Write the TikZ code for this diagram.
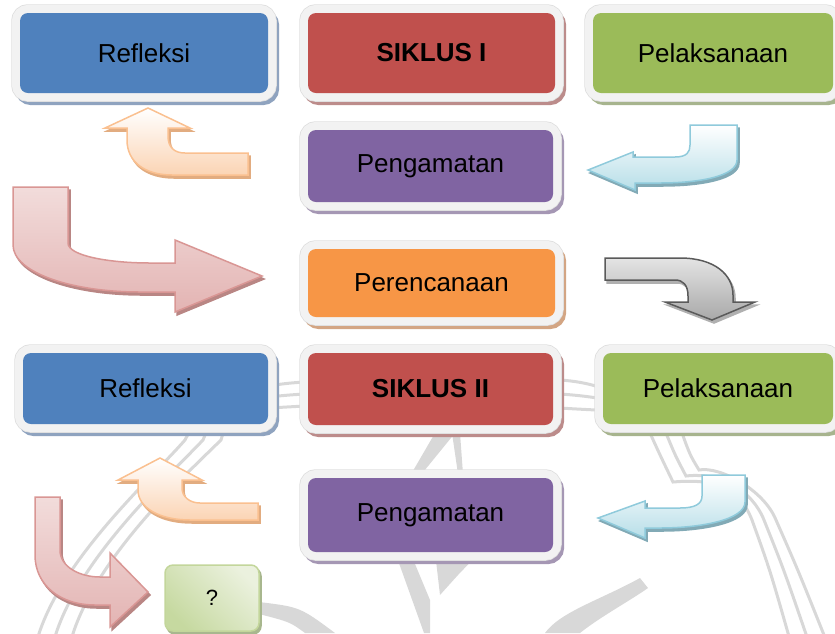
\documentclass[tikz,border=0pt]{standalone}
\usepackage{fontspec}
\setmainfont{Liberation Sans}
\definecolor{blueC}{HTML}{4F81BD}\definecolor{blueS}{HTML}{8FA3BF}
\definecolor{redC}{HTML}{C0504D}\definecolor{redS}{HTML}{BC8C8B}
\definecolor{greenC}{HTML}{9BBB59}\definecolor{greenS}{HTML}{A7B48E}
\definecolor{purpleC}{HTML}{8064A2}\definecolor{purpleS}{HTML}{A597B4}
\definecolor{orangeC}{HTML}{F79646}\definecolor{orangeS}{HTML}{D3A583}
\definecolor{frameC}{HTML}{F2F2F2}\definecolor{frameE}{HTML}{DEDEDE}
\definecolor{wm}{HTML}{D8D8D8}
\definecolor{orA}{HTML}{FBD4B4}\definecolor{orB}{HTML}{FAC090}\definecolor{orS}{HTML}{E2AC80}
\definecolor{blA}{HTML}{B7DEE8}\definecolor{blB}{HTML}{8FCADB}\definecolor{blS}{HTML}{82AAB6}
\definecolor{pkA}{HTML}{F2DCDB}\definecolor{pkB}{HTML}{E3B4B3}\definecolor{pkD}{HTML}{D99694}\definecolor{pkS}{HTML}{B98684}
\definecolor{gyA}{HTML}{E4E4E4}\definecolor{gyB}{HTML}{A8A8A8}\definecolor{gyD}{HTML}{5A5A5A}\definecolor{gyS}{HTML}{B0B0B0}
\definecolor{qA}{HTML}{EBF1DE}\definecolor{qB}{HTML}{C6D9A0}\definecolor{qD}{HTML}{C3D69B}\definecolor{qS}{HTML}{A8B78E}
\tikzset{
  cbox/.style 2 args={fill=#1, draw=none, rounded corners=8pt, inner sep=0pt,
    font=\fontsize{26}{30}\selectfont, text=black,
    preaction={draw=#2, fill=#2, line width=16pt, transform canvas={xshift=3pt,yshift=-4pt}},
    preaction={draw=frameE, line width=17.5pt},
    preaction={draw=frameC, line width=16pt}},
  blockarrow/.style n args={4}{draw=#3, line width=1.5pt, line join=miter, top color=#1, bottom color=#2,
    preaction={fill=#4, draw=#4, line width=1.5pt, transform canvas={xshift=2pt,yshift=-3pt}}},
  wmline/.style={draw=wm, line width=3pt},
  wmfill/.style={fill=wm, draw=none}
}
\begin{document}
\begin{tikzpicture}[x=1pt,y=-1pt]
\useasboundingbox (0,0) rectangle (835,633);
% watermark
\foreach \k in {0,1,2}{
  \draw[wmline] (305,382+12*\k) .. controls (230,386+12*\k) and (200+15*\k,410) .. (185+18*\k,440)
     .. controls (150+15*\k,480) and (60+17*\k,560) .. (37+17*\k,640);
  \draw[wmline] (560,380+14*\k) .. controls (620,384+14*\k) and (640+15*\k,410) .. (650+16*\k,433)
     .. controls (660+15*\k,455) .. (673+13*\k,482-6*\k)
     .. controls (720,478-6*\k) and (740+12*\k,490) .. (752+12*\k,520)
     .. controls (770+14*\k,570) .. (790+18*\k,640);
}
\fill[wmfill] (435,433) -- (455,433) -- (420,476) -- (410,476) -- cycle;
\fill[wmfill] (452,433) -- (460,433) -- (463,474) -- (458,474) -- cycle;
\fill[wmfill] (395,552) -- (410,552) -- (430,600) -- (430,633) -- (424,633) -- cycle;
\fill[wmfill] (435,552) -- (480,552) -- (458,575) -- (440,595) -- cycle;
\fill[wmfill] (259,602) .. controls (300,607) .. (335,633) -- (305,633) .. controls (290,622) .. (259,614) -- cycle;
\fill[wmfill] (640,578) .. controls (600,600) and (560,612) .. (545,633) -- (580,633) .. controls (600,617) and (628,602) .. (648,588) -- cycle;

% boxes
\node[cbox={blueC}{blueS}, minimum width=248pt, minimum height=80pt] (ref1) at (144,53) {Refleksi};
\node[cbox={redC}{redS}, minimum width=247pt, minimum height=80pt] (sik1) at (431.5,53) {\textbf{SIKLUS I}};
\node[cbox={greenC}{greenS}, minimum width=240pt, minimum height=80pt] (pel1) at (713,53) {Pelaksanaan};
\node[cbox={purpleC}{purpleS}, minimum width=245pt, minimum height=72pt] (pen1) at (430.5,166) {Pengamatan};
\node[cbox={orangeC}{orangeS}, minimum width=247pt, minimum height=68pt] (per) at (431.5,283) {Perencanaan};
\node[cbox={blueC}{blueS}, minimum width=245pt, minimum height=71pt] (ref2) at (145.5,388.5) {Refleksi};
\node[cbox={redC}{redS}, minimum width=245pt, minimum height=72pt] (sik2) at (430.5,389) {\textbf{SIKLUS II}};
\node[cbox={greenC}{greenS}, minimum width=230pt, minimum height=71pt] (pel2) at (718,388.5) {Pelaksanaan};
\node[cbox={purpleC}{purpleS}, minimum width=245pt, minimum height=74pt] (pen2) at (430.5,515) {Pengamatan};
\node[draw=qD, line width=1.5pt, rounded corners=8pt, inner sep=0pt,
  minimum width=94pt, minimum height=66pt, font=\fontsize{22}{26}\selectfont,
  left color=qB, right color=qA, shading angle=135,
  preaction={fill=qS, draw=qS, line width=1.5pt, transform canvas={xshift=2pt,yshift=-3pt}}]
  (q) at (212,598) {?};

% block arrows
% orange, row 1
\path[blockarrow={white}{orA}{orB}{orS}]
  (248,153) -- (185,153) .. controls (174,153) and (168,147) .. (168,136) -- (168,128)
  -- (190,128) -- (148,108) -- (105,128) -- (127,128) -- (127,140)
  .. controls (127,162) and (145,175) .. (172,175) -- (248,175) -- cycle;
% blue, row 1
\path[blockarrow={white}{blA}{blB}{blS}]
  (690,125) -- (737,125) -- (737,160) .. controls (737,176) and (700,183) .. (660,183)
  -- (635,183) -- (635,190) -- (588,170) -- (633,152) -- (633,157) -- (675,157)
  .. controls (687,157) and (690,152) .. (690,145) -- cycle;
% pink, big
\path[blockarrow={pkA}{pkB}{pkD}{pkS}]
  (13,187) -- (68,187) -- (68,243) .. controls (68,256) and (110,263) .. (150,263)
  -- (175,263) -- (175,240) -- (262,276) -- (175,312) -- (175,292) -- (140,292)
  .. controls (70,292) and (13,272) .. (13,245) -- cycle;
% gray
\path[blockarrow={gyA}{gyB}{gyD}{gyS}]
  (605,258) -- (680,258) .. controls (715,258) and (733,275) .. (733,295) -- (733,302)
  -- (755,302) -- (712,320) -- (665,302) -- (688,302) -- (688,296)
  .. controls (688,285) and (683,280) .. (675,280) -- (605,280) -- cycle;
% orange, row 3
\path[blockarrow={white}{orA}{orB}{orS}]
  (258,503) -- (200,503) .. controls (190,503) and (182,497) .. (182,488) -- (182,480)
  -- (202,480) -- (160,458) -- (118,480) -- (138,480) -- (138,490)
  .. controls (138,508) and (160,520) .. (190,520) -- (258,520) -- cycle;
% blue, row 3
\path[blockarrow={white}{blA}{blB}{blS}]
  (702,475) -- (745,475) -- (745,502) .. controls (745,520) and (700,528) .. (660,528)
  -- (645,528) -- (645,538) -- (598,518) -- (645,501) -- (645,508) -- (680,508)
  .. controls (695,508) and (702,504) .. (702,496) -- cycle;
% pink, small
\path[blockarrow={pkA}{pkB}{pkD}{pkS}]
  (35,497) -- (60,497) -- (60,550) .. controls (60,567) and (80,577) .. (100,577)
  -- (110,577) -- (110,553) -- (148,592) -- (110,627) -- (110,605) -- (95,605)
  .. controls (60,605) and (35,585) .. (35,555) -- cycle;
\end{tikzpicture}
\end{document}
